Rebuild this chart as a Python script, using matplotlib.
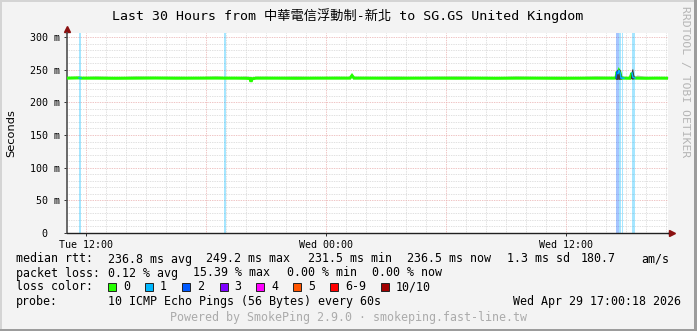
import matplotlib
matplotlib.use('Agg')
import matplotlib.pyplot as plt
from matplotlib.patches import Rectangle

plt.rcParams['font.family'] = ['DejaVu Sans Mono', 'Noto Sans CJK TC']

W, H = 697, 331

# time in hours since Tue 00:00
t_start = 11.05
t_end = 41.1

# median rtt (ms)
med_t = [11.05, 11.65, 11.75, 12.5, 13.5, 14.5, 15.5, 16.5, 17.5, 18.5, 18.95, 19.5,
         20.0, 20.2, 20.25, 20.3, 20.5, 21.5, 22.5, 23.5, 24.5, 25.2, 25.3, 25.4,
         26.5, 27.5, 28.5, 29.5, 30.5, 31.5, 32.5, 33.5, 34.5, 35.5, 36.5, 37.5,
         38.4, 38.5, 38.55, 38.6, 38.65, 38.7, 38.75, 38.8, 38.9, 39.2, 39.3, 39.35,
         39.45, 39.55, 40.0, 40.5, 41.1]
med_v = [237.0, 237.4, 237.0, 237.0, 236.8, 237.0, 237.2, 236.9, 237.0, 237.1, 237.0, 237.0,
         236.8, 236.5, 231.5, 236.0, 237.0, 237.0, 236.8, 237.0, 237.0, 237.0, 241.0, 237.0,
         237.0, 236.8, 237.0, 237.0, 236.9, 237.0, 236.8, 237.0, 237.0, 236.8, 236.9, 237.0,
         237.0, 237.2, 247.0, 244.0, 248.5, 246.0, 237.5, 237.0, 237.0, 236.8, 245.0, 238.0,
         237.0, 237.0, 236.8, 237.0, 236.9]
# upper edge of the grey smoke
smoke_hi = [239.5, 240.0, 239.0, 240.5, 239.0, 240.5, 239.5, 240.0, 239.0, 240.5, 239.5, 239.0,
            240.5, 239.5, 234.0, 239.0, 240.0, 239.5, 240.5, 239.0, 240.0, 239.5, 243.0, 240.0,
            239.5, 240.5, 239.0, 240.0, 240.5, 239.5, 239.0, 240.5, 239.5, 240.0, 239.0, 240.5,
            239.5, 240.0, 251.0, 248.0, 252.0, 249.0, 241.0, 241.5, 239.5, 239.0, 252.0, 241.0,
            240.0, 242.0, 239.5, 239.0, 239.5]

# dark smoke around the spikes
dark_t = [38.45, 38.5, 38.55, 38.6, 38.65, 38.7, 38.75, 38.8]
dark_lo = [237.0, 235.0, 235.0, 235.5, 235.0, 235.5, 235.5, 237.0]
dark_hi = [238.0, 246.0, 251.0, 248.0, 251.5, 250.0, 242.0, 238.0]
dark2_t = [39.22, 39.28, 39.33, 39.38, 39.42]
dark2_lo = [237.0, 235.5, 235.5, 236.0, 237.0]
dark2_hi = [238.0, 250.0, 252.0, 243.0, 238.0]

# packet loss periods: start, end, loss class
loss_start = [11.65, 18.9, 38.5, 38.65, 38.8, 39.3]
loss_end = [11.75, 19.0, 38.65, 38.75, 38.85, 39.45]
loss_cls = [1, 1, 2, 1, 1, 1]

loss_colors = ['#26ff00', '#00b8ff', '#0059ff', '#7e00ff', '#ff00ff', '#ff5500', '#ff0000', '#a00000']
loss_labels = ['0', '1', '2', '3', '4', '5', '6-9', '10/10']

x_ticks = [12, 24, 36]
x_labels = ['Tue 12:00', 'Wed 00:00', 'Wed 12:00']
y_ticks = [0, 50, 100, 150, 200, 250, 300]
y_labels = ['0  ', '50 m', '100 m', '150 m', '200 m', '250 m', '300 m']

fig = plt.figure(figsize=(W / 100, H / 100), dpi=100, facecolor='#f3f3f3')
ax = fig.add_axes([67 / W, (H - 233) / H, 601 / W, 200 / H])
ax.set_facecolor('white')
ax.set_xlim(t_start, t_end)
ax.set_ylim(0, 306.1)

dot = (0, (0.72, 1.0))
# grid
for h in range(12, 42):
    if h % 6 == 0:
        ax.axvline(h, color='#eab0b0', lw=0.72, ls=dot, zorder=0.6)
    else:
        ax.axvline(h, color='#d6d6d6', lw=0.72, ls=dot, zorder=0.5)
for v in range(10, 310, 10):
    if v % 50 == 0:
        ax.axhline(v, color='#eab0b0', lw=0.72, ls=dot, zorder=0.6)
    else:
        ax.axhline(v, color='#d6d6d6', lw=0.72, ls=dot, zorder=0.5)

# loss bands
for s, e, c in zip(loss_start, loss_end, loss_cls):
    ax.axvspan(s, e, color=loss_colors[c], alpha=0.35, lw=0, zorder=1)

# smoke
ax.fill_between(med_t, med_v, smoke_hi, color='#c4c4c4', lw=0, zorder=2)

# median line, green, blue where packets were lost
ax.plot(med_t, med_v, color=loss_colors[0], lw=2.2, zorder=3, solid_joinstyle='miter')
ax.fill_between(dark_t, dark_lo, dark_hi, color='#3c3c3c', lw=0, zorder=3.2)
ax.fill_between(dark2_t, dark2_lo, dark2_hi, color='#3c3c3c', lw=0, zorder=3.2)
for s, e, c in zip(loss_start, loss_end, loss_cls):
    seg_t = [t for t in med_t if s - 0.05 <= t <= e + 0.05]
    seg_v = [v for t, v in zip(med_t, med_v) if s - 0.05 <= t <= e + 0.05]
    if len(seg_t) > 1:
        ax.plot(seg_t, seg_v, color=loss_colors[c], lw=1.0, zorder=3.5)

# axes styling
for sp in ['top', 'right']:
    ax.spines[sp].set_visible(False)
ax.spines['left'].set_color('#505050')
ax.spines['bottom'].set_color('#202020')
ax.spines['left'].set_linewidth(1.2)
ax.spines['bottom'].set_linewidth(1.0)
ax.plot([0, 0], [1, 1.02], color='#505050', lw=1.2, transform=ax.transAxes, clip_on=False)
ax.plot([1, 1.006], [0, 0], color='#202020', lw=1.0, transform=ax.transAxes, clip_on=False)
ax.plot([0], [1.022], marker='^', color='#8b1010', ms=5, transform=ax.transAxes, clip_on=False)
ax.plot([1.007], [0], marker='>', color='#8b1010', ms=5, transform=ax.transAxes, clip_on=False)

ax.set_xticks(x_ticks)
ax.set_xticklabels(x_labels)
ax.set_yticks(y_ticks)
ax.set_yticklabels(y_labels)
ax.tick_params(axis='both', length=2.2, width=0.7, color='#303030', labelsize=7.2, pad=3)
ax.tick_params(axis='x', pad=2.5)
ax.set_ylabel('Seconds', family='DejaVu Sans', fontsize=8.2)
ax.yaxis.set_label_coords(-50.5 / 601, 0.5)


def px(x, y):
    return x / W, 1 - y / H


fs = 8.4
fig.text(*px(348, 16), 'Last 30 Hours from 中華電信浮動制-新北 to SG.GS United Kingdom',
         ha='center', va='center', fontsize=9.5)
fig.text(*px(685, 82), 'RRDTOOL / TOBI OETIKER', rotation=270, ha='center', va='center',
         fontsize=8.2, color='#b4b4b4')

row1 = [(16, 'median rtt:'), (107.6, '236.8 ms avg'), (206, '249.2 ms max'), (307.5, '231.5 ms min'),
        (407.5, '236.5 ms now'), (507, '1.3 ms sd'), (581, '180.7'), (641, 'am/s')]
row2 = [(16, 'packet loss:'), (107.6, '0.12 % avg'), (193.3, '15.39 % max'), (286.7, '0.00 % min'),
        (372.4, '0.00 % now')]
for x, s in row1:
    fig.text(*px(x, 259), s, ha='left', va='center', fontsize=fs)
for x, s in row2:
    fig.text(*px(x, 273), s, ha='left', va='center', fontsize=fs)

fig.text(*px(16, 287), 'loss color:', ha='left', va='center', fontsize=fs)
box_x = [108.4, 145.3, 182.2, 219.6, 256.4, 293.3, 330.2, 381.3]
for bx, col, lab in zip(box_x, loss_colors, loss_labels):
    fig.patches.append(Rectangle(px(bx, 291), 8 / W, 8 / H, transform=fig.transFigure,
                                 facecolor=col, edgecolor='#222222', lw=0.7))
    fig.text(*px(bx + 14.6, 287), lab, ha='left', va='center', fontsize=fs)

fig.text(*px(16, 301), 'probe:', ha='left', va='center', fontsize=fs)
fig.text(*px(107.6, 301), '10 ICMP Echo Pings (56 Bytes) every 60s', ha='left', va='center', fontsize=fs)
fig.text(*px(681, 301), 'Wed Apr 29 17:00:18 2026', ha='right', va='center', fontsize=fs)
fig.text(*px(348, 318), 'Powered by SmokePing 2.9.0 · smokeping.fast-line.tw', ha='center', va='center',
         fontsize=fs, color='#ababab')

# frame of the canvas
fig.patches.append(Rectangle((0, 0), 2 / W, 1, transform=fig.transFigure, facecolor='#d4d4d4', lw=0))
fig.patches.append(Rectangle((0, 1 - 2 / H), 1, 2 / H, transform=fig.transFigure, facecolor='#d4d4d4', lw=0))
fig.patches.append(Rectangle((1 - 3 / W, 0), 3 / W, 1, transform=fig.transFigure, facecolor='#9c9c9c', lw=0))
fig.patches.append(Rectangle((0, 0), 1, 2 / H, transform=fig.transFigure, facecolor='#9c9c9c', lw=0))

fig.savefig('out.png', dpi=100, facecolor=fig.get_facecolor())
